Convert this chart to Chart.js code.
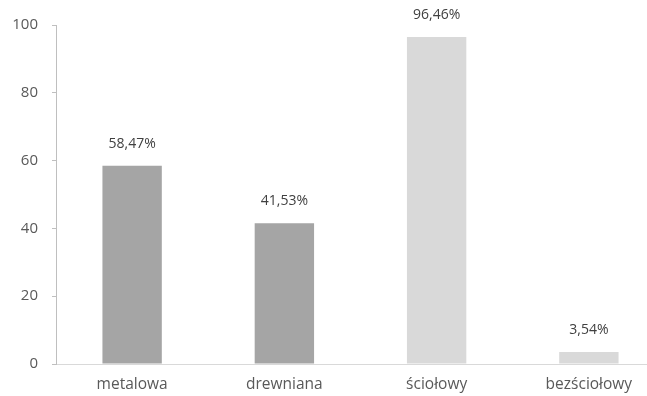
<!DOCTYPE html>
<html>
<head>
<meta charset="utf-8">
<script src="https://cdn.jsdelivr.net/npm/chart.js@4/dist/chart.umd.min.js"></script>
<style>
  html, body { margin: 0; padding: 0; background: #fff; overflow: hidden; }
  #wrap { width: 665px; height: 396px; }
</style>
</head>
<body>
<div id="wrap"><canvas id="c" width="665" height="396"></canvas></div>
<script>
const categories = ['metalowa', 'drewniana', 'ściołowy', 'bezściołowy'];
const shares = [58.47, 41.53, 96.46, 3.54];
const barColors = ['#a5a5a5', '#a5a5a5', '#d9d9d9', '#d9d9d9'];
const yTicks = [0, 20, 40, 60, 80, 100];

// Percent labels written above each bar
const valueLabels = {
  id: 'valueLabels',
  afterDatasetsDraw(chart) {
    const ctx = chart.ctx;
    const meta = chart.getDatasetMeta(0);
    ctx.save();
    ctx.font = '14px "Open Sans", sans-serif';
    ctx.fillStyle = '#404040';
    ctx.textAlign = 'center';
    ctx.textBaseline = 'middle';
    meta.data.forEach((bar, i) => {
      const txt = shares[i].toFixed(2).replace('.', ',') + '%';
      ctx.fillText(txt, bar.x, bar.y - 22);
    });
    ctx.restore();
  }
};

new Chart(document.getElementById('c'), {
  type: 'bar',
  data: {
    labels: categories,
    datasets: [{
      data: shares,
      backgroundColor: barColors,
      borderWidth: 0,
      categoryPercentage: 1,
      barPercentage: 0.39
    }]
  },
  options: {
    responsive: false,
    animation: false,
    layout: { padding: { top: 25, left: 0, right: 0, bottom: 0 } },
    plugins: { legend: { display: false }, tooltip: { enabled: false } },
    scales: {
      x: {
        grid: { display: false, drawTicks: false },
        border: { display: true, color: '#d9d9d9', width: 1 },
        ticks: {
          color: '#595959',
          font: { family: '"Open Sans", sans-serif', size: 15.5 },
          padding: 11,
          maxRotation: 0
        },
        afterFit(scale) { scale.height = 32; }
      },
      y: {
        min: 0,
        max: 100,
        afterBuildTicks(scale) { scale.ticks = yTicks.map(v => ({ value: v })); },
        grid: { drawOnChartArea: false, drawTicks: true, tickLength: 4, color: '#bfbfbf' },
        border: { display: true, color: '#bfbfbf', width: 1 },
        ticks: {
          color: '#595959',
          font: { family: '"Open Sans", sans-serif', size: 15 },
          padding: 14
        },
        afterFit(scale) { scale.width = 56; }
      }
    }
  },
  plugins: [valueLabels]
});
</script>
</body>
</html>
